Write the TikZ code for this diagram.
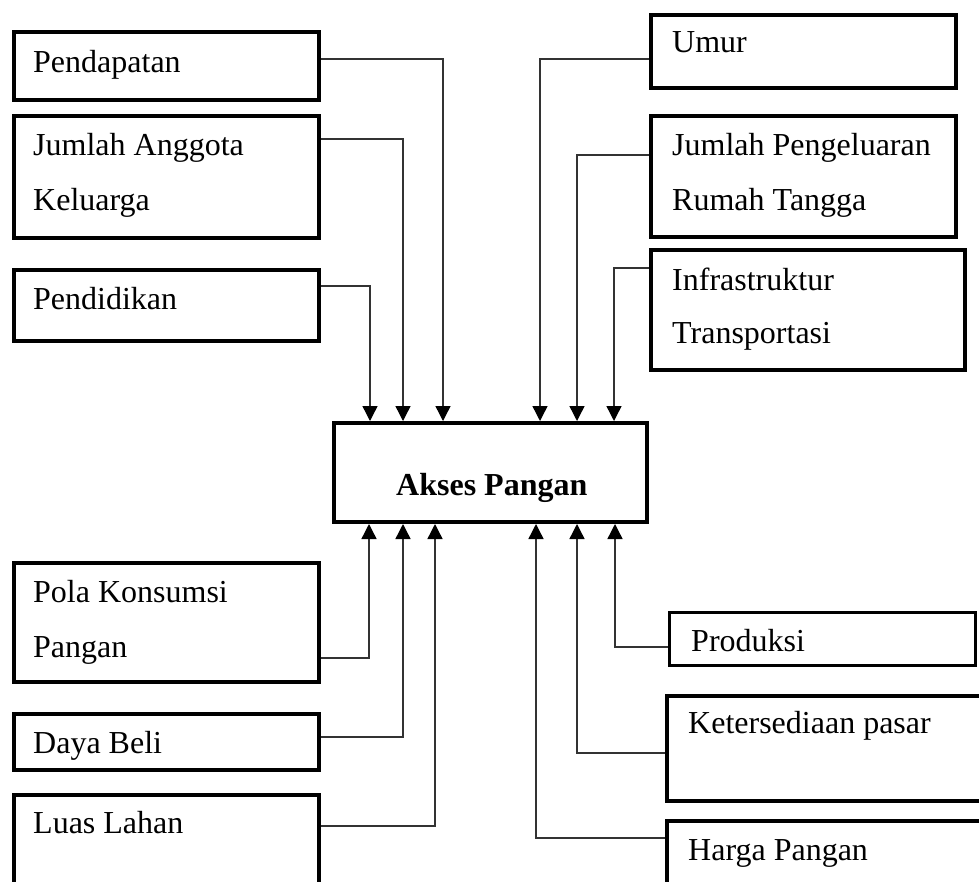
\documentclass[tikz,border=0pt]{standalone}
\usepackage{fontspec}
\setmainfont{Liberation Serif}
\usetikzlibrary{arrows.meta}
\tikzset{
  box/.style={draw=black, line width=4pt, inner sep=0pt, fill=none},
  thinbox/.style={draw=black, line width=3pt, inner sep=0pt},
  lbl/.style={anchor=base west, inner sep=0pt, font=\fontsize{32}{38}\selectfont},
  conn/.style={draw=black!80, line width=1.4pt, -{Triangle[length=15pt,width=15pt,color=black]}},
}
\begin{document}
\begin{tikzpicture}[x=1pt,y=-1pt]
\useasboundingbox (0,0) rectangle (979,881);
\fill[white] (0,0) rectangle (979,881);
\clip (0,0) rectangle (979,881);
% boxes
\node[box, minimum width=305pt, minimum height=68pt] (pend) at (166.5,66) {};
\node[box, minimum width=305pt, minimum height=122pt] (jak) at (166.5,177) {};
\node[box, minimum width=305pt, minimum height=71pt] (pendi) at (166.5,305.5) {};
\node[box, minimum width=313pt, minimum height=99pt] (akses) at (490.5,472.5) {};
\node[box, minimum width=305pt, minimum height=73pt] (umur) at (803.5,51.5) {};
\node[box, minimum width=305pt, minimum height=121pt] (jpr) at (803.5,176.5) {};
\node[box, minimum width=314pt, minimum height=120pt] (infra) at (808,310) {};
\node[box, minimum width=305pt, minimum height=119pt] (pola) at (166.5,622.5) {};
\node[box, minimum width=305pt, minimum height=56pt] (daya) at (166.5,742) {};
\node[box, minimum width=305pt, minimum height=110pt] (luas) at (166.5,850) {};
\node[thinbox, minimum width=306pt, minimum height=53pt] (prod) at (822.5,639) {};
\node[box, minimum width=333pt, minimum height=105pt] (keter) at (833.5,748.5) {};
\node[box, minimum width=333pt, minimum height=109pt] (harga) at (833.5,875.5) {};
% texts
\node[lbl] (tpend) at (33,72) {Pendapatan};
\node[lbl] (tjak1) at (33,155) {Jumlah Anggota};
\node[lbl] (tjak2) at (33,210) {Keluarga};
\node[lbl] (tpendi) at (33,309) {Pendidikan};
\node[lbl, font=\fontsize{32}{38}\selectfont\bfseries] (takses) at (396,495) {Akses Pangan};
\node[lbl] (tumur) at (672,52) {Umur};
\node[lbl] (tjpr1) at (672,155) {Jumlah Pengeluaran};
\node[lbl] (tjpr2) at (672,210) {Rumah Tangga};
\node[lbl] (tinf1) at (672,290) {Infrastruktur};
\node[lbl] (tinf2) at (672,343) {Transportasi};
\node[lbl] (tpola1) at (33,602) {Pola Konsumsi};
\node[lbl] (tpola2) at (33,657) {Pangan};
\node[lbl] (tdaya) at (33,753) {Daya Beli};
\node[lbl] (tluas) at (33,833) {Luas Lahan};
\node[lbl] (tprod) at (691,651) {Produksi};
\node[lbl] (tketer) at (688,733) {Ketersediaan pasar};
\node[lbl] (tharga) at (688,860) {Harga Pangan};
% corner coordinates
\coordinate (c1) at (443,59);
\coordinate (c2) at (403,139);
\coordinate (c3) at (370,286);
\coordinate (c4) at (540,59);
\coordinate (c5) at (577,155);
\coordinate (c6) at (614,268);
\coordinate (c7) at (369,658);
\coordinate (c8) at (403,737);
\coordinate (c9) at (435,826);
\coordinate (c10) at (615,647);
\coordinate (c11) at (577,753);
\coordinate (c12) at (536,838);
% connectors
\draw[conn] (pend.east |- c1) -| (akses.north -| c1);
\draw[conn] (jak.east |- c2) -| (akses.north -| c2);
\draw[conn] (pendi.east |- c3) -| (akses.north -| c3);
\draw[conn] (umur.west |- c4) -| (akses.north -| c4);
\draw[conn] (jpr.west |- c5) -| (akses.north -| c5);
\draw[conn] (infra.west |- c6) -| (akses.north -| c6);
\draw[conn] (pola.east |- c7) -| (akses.south -| c7);
\draw[conn] (daya.east |- c8) -| (akses.south -| c8);
\draw[conn] (luas.east |- c9) -| (akses.south -| c9);
\draw[conn] (prod.west |- c10) -| (akses.south -| c10);
\draw[conn] (keter.west |- c11) -| (akses.south -| c11);
\draw[conn] (harga.west |- c12) -| (akses.south -| c12);
\end{tikzpicture}
\end{document}
